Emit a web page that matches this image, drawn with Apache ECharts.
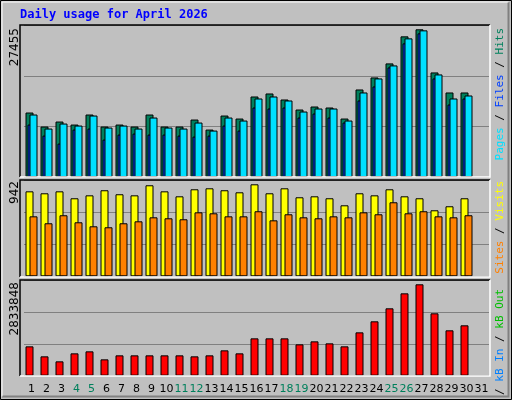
<!DOCTYPE html><html><head><meta charset="utf-8">
<script src="https://cdn.jsdelivr.net/npm/echarts@6/dist/echarts.min.js"></script>
<style>html,body{margin:0;padding:0;background:#c0c0c0}#c{width:512px;height:400px}</style></head><body><div id="c"></div><script>
const days=['1','2','3','4','5','6','7','8','9','10','11','12','13','14','15','16','17','18','19','20','21','22','23','24','25','26','27','28','29','30','31'];
const weekend=['4','5','11','12','18','19','25','26'];
const hits=[11985,9377,10309,9750,11613,9377,9750,9377,11613,9377,9377,10681,8818,11426,10868,14966,15525,14407,12544,13103,12917,10868,16270,18506,21114,26144,27455,19437,15711,15711,null];
const files=[9750,7700,6210,8818,9005,6955,7887,8073,7887,7887,7700,7514,7700,9563,8632,12917,12731,12917,11054,11799,11054,10122,14221,16829,20369,24840,26703,18320,13476,14594,null];
const pages=[11613,9005,9936,9563,11426,9191,9563,9005,11054,9191,9005,10122,8632,11054,10495,14594,14966,14221,12172,12731,12731,10495,15711,18320,20741,25772,27262,19065,14594,15152,null];
const visits=[870,850,870,799,829,881,840,829,932,870,819,891,901,881,860,942,850,901,809,819,799,727,850,829,891,819,799,676,717,799,null];
const sites=[614,543,625,553,512,502,543,563,604,594,584,655,645,614,614,666,573,635,604,594,614,604,655,635,758,645,666,614,604,625,null];
const kbytes=[910000,600000,445000,693000,755000,507000,631000,631000,631000,631000,631000,600000,631000,786000,693000,1158000,1158000,1158000,972000,1065000,1003000,910000,1344000,1686000,2089000,2554000,2833848,1934000,1407000,1562000,null];
const maxLabels=['27455','942','2833848'];
const ch=echarts.init(document.getElementById('c'),null,{renderer:'canvas'});
const grids=[{left:24,width:465,top:25.3,height:151.7},{left:24,width:465,top:180.3,height:96},{left:24,width:465,top:280.3,height:95.4}];
const maxes=[28200,983,2958000];
const xAxis=grids.map((g,i)=>({type:'category',gridIndex:i,data:days,axisLine:{show:false},axisTick:{show:false},
 axisLabel:{show:i===2,margin:8,fontFamily:'DejaVu Sans',fontSize:11,interval:0,color:v=>weekend.includes(v)?'#00805c':'#000'}}));
const yAxis=grids.map((g,i)=>({type:'value',gridIndex:i,min:0,max:maxes[i],interval:maxes[i]/3,axisLabel:{show:false},axisLine:{show:false},axisTick:{show:false},
 splitLine:{show:true,lineStyle:{color:'#808080',width:1}}}));
const bs=(name,data,color,xi,gap,w)=>({name,type:'bar',data,xAxisIndex:xi,yAxisIndex:xi,barWidth:w||8,barGap:gap,silent:true,animation:false,
 itemStyle:{color,borderColor:'#000',borderWidth:1}});
const series=[bs('Hits',hits,'#00805c',0,'-75%'),bs('Files',files,'#0040ff',0,'-75%'),bs('Pages',pages,'#00e0ff',0,'-75%'),
 bs('Visits',visits,'#ffff00',1,'-50%'),bs('Sites',sites,'#ff8000',1,'-50%'),
 bs('kB F',kbytes,'#ff0000',2,'-50%'),{type:'bar',data:[],xAxisIndex:2,yAxisIndex:2,barWidth:8,barGap:'-50%'}];
const frames=[[20,25,470,152],[20,180,470,97],[20,280,470,96]].map(f=>[
 {type:'polyline',shape:{points:[[f[0],f[1]+f[3]],[f[0],f[1]],[f[0]+f[2],f[1]]]},style:{stroke:'#000',lineWidth:1.5,fill:null},z:10},
 {type:'polyline',shape:{points:[[f[0]+f[2],f[1]],[f[0]+f[2],f[1]+f[3]],[f[0],f[1]+f[3]]]},style:{stroke:'#fff',lineWidth:1.5,fill:null},z:10}]).flat();
const rt=(x,y,rich,text)=>({type:'text',x,y,rotation:Math.PI/2,style:{text,rich,font:'bold 11px "DejaVu Sans Mono"',textAlign:'right',textVerticalAlign:'middle'},z:20});
const R={p:{fill:'#00e0ff'},f:{fill:'#0040ff'},h:{fill:'#00805c'},s:{fill:'#ff8000'},v:{fill:'#ffff00'},r:{fill:'#ff0000'},i:{fill:'#0080ff'},o:{fill:'#00c000'},k:{fill:'#000'}};
const RR={};for(const k in R)RR[k]={fill:R[k].fill,font:'11px "DejaVu Sans Mono"'};
ch.setOption({animation:false,backgroundColor:'#c0c0c0',grid:grids,xAxis,yAxis,series,
 graphic:[
  {type:'rect',shape:{x:0.5,y:0.5,width:511,height:399},style:{fill:null,stroke:'#000',lineWidth:1},z:30},
  {type:'polyline',shape:{points:[[2,396.5],[508.5,396.5],[508.5,2]]},style:{stroke:'#808080',lineWidth:2,fill:null},z:30},
  {type:'polyline',shape:{points:[[2,396.5],[2,2],[508.5,2]]},style:{stroke:'#fff',lineWidth:1,fill:null},z:30},
  ...frames,
  {type:'text',x:20,y:15,style:{text:'Daily usage for April 2026',fill:'#0000ff',font:'bold 12px "DejaVu Sans Mono"',textVerticalAlign:'middle'},z:20},
  {type:'text',x:15,y:28,rotation:Math.PI/2,style:{text:maxLabels[0],fill:'#000',font:'12px "DejaVu Sans"',textAlign:'right',textVerticalAlign:'middle'},z:20},
  {type:'text',x:15,y:181,rotation:Math.PI/2,style:{text:maxLabels[1],fill:'#000',font:'12px "DejaVu Sans"',textAlign:'right',textVerticalAlign:'middle'},z:20},
  {type:'text',x:15,y:282,rotation:Math.PI/2,style:{text:maxLabels[2],fill:'#000',font:'12px "DejaVu Sans"',textAlign:'right',textVerticalAlign:'middle'},z:20},
  {type:'text',x:500,y:28,rotation:Math.PI/2,style:{text:'{p|Pages}{k| / }{f|Files}{k| / }{h|Hits}',rich:RR,textAlign:'right',textVerticalAlign:'middle'},z:20},
  {type:'text',x:500,y:181,rotation:Math.PI/2,style:{text:'{s|Sites}{k| / }{v|Visits}',rich:RR,textAlign:'right',textVerticalAlign:'middle'},z:20},
  {type:'text',x:500,y:289,rotation:Math.PI/2,style:{text:'{r|kB F}{k| / }{i|kB In}{k| / }{o|kB Out}',rich:RR,textAlign:'right',textVerticalAlign:'middle'},z:20}
 ]});
</script></body></html>
